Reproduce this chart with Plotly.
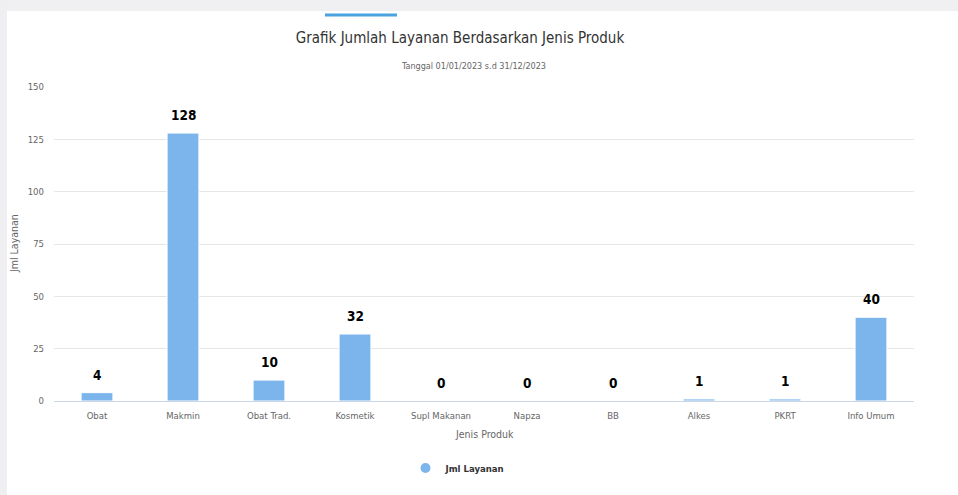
import plotly.graph_objects as go

categories = ["Obat", "Makmin", "Obat Trad.", "Kosmetik", "Supl Makanan", "Napza", "BB", "Alkes", "PKRT", "Info Umum"]
values = [4, 128, 10, 32, 0, 0, 0, 1, 1, 40]
y_ticks = [0, 25, 50, 75, 100, 125, 150]

W, H = 958, 495
L, R, T, B = 54, 44, 87, 94
pw, ph = W - L - R, H - T - B
FONT = "Liberation Sans Narrow, DejaVu Sans Condensed, DejaVu Sans, sans-serif"

def px_x(p):
    return (p - L) / pw

def px_y(p):
    return 1 - (p - T) / ph

fig = go.Figure()
fig.add_trace(go.Bar(
    x=categories, y=values, name="Jml Layanan",
    marker=dict(color="#7cb5ec", line=dict(color="#ffffff", width=1)),
    showlegend=False, cliponaxis=False,
))
# legend proxy (circle marker)
fig.add_trace(go.Scatter(
    x=[None], y=[None], mode="markers", name="<b>Jml Layanan</b>",
    marker=dict(color="#7cb5ec", size=10, symbol="circle"),
))

shapes = [
    dict(type="rect", xref="paper", yref="paper", x0=px_x(0), x1=px_x(W), y0=px_y(11), y1=px_y(0),
         fillcolor="#f0f0f2", line=dict(width=0), layer="below"),
    dict(type="rect", xref="paper", yref="paper", x0=px_x(0), x1=px_x(7), y0=px_y(H), y1=px_y(0),
         fillcolor="#efeff1", line=dict(width=0), layer="below"),
    dict(type="rect", xref="paper", yref="paper", x0=px_x(325), x1=px_x(397), y0=px_y(16.5), y1=px_y(13.5),
         fillcolor="#4aa3df", line=dict(width=0)),
]

annotations = [
    dict(text="Tanggal 01/01/2023 s.d 31/12/2023", xref="paper", yref="paper",
         x=px_x(473), y=px_y(66), xanchor="center", yanchor="middle", showarrow=False,
         font=dict(family=FONT, size=9, color="#666666")),
    dict(text="Jenis Produk", xref="paper", yref="paper",
         x=px_x(484), y=px_y(434), xanchor="center", yanchor="middle", showarrow=False,
         font=dict(family=FONT, size=10.5, color="#666666")),
    dict(text="Jml Layanan", xref="paper", yref="paper", textangle=-90,
         x=px_x(14), y=px_y(244), xanchor="center", yanchor="middle", showarrow=False,
         font=dict(family=FONT, size=10.5, color="#666666")),
]
for c, v in zip(categories, values):
    annotations.append(dict(text=f"<b>{v}</b>", x=c, y=v, xref="x", yref="y",
                            yshift=18, xanchor="center", yanchor="middle", showarrow=False,
                            font=dict(family=FONT, size=13.5, color="#000000")))

fig.update_layout(
    width=W, height=H,
    margin=dict(l=L, r=R, t=T, b=B, autoexpand=False),
    paper_bgcolor="#ffffff", plot_bgcolor="#ffffff",
    font=dict(family=FONT, color="#666666", size=10),
    bargap=0.63,
    shapes=shapes,
    annotations=annotations,
    title=dict(text="Grafik Jumlah Layanan Berdasarkan Jenis Produk", xref="container", x=460 / W,
               xanchor="center", yref="container", y=1 - 38 / H, yanchor="middle",
               font=dict(family=FONT, size=15, color="#333333")),
    xaxis=dict(automargin=False, showgrid=False, showline=True, linecolor="#ccd6eb", linewidth=1, ticks="",
               tickfont=dict(family=FONT, size=9.5, color="#666666"), ticklabelstandoff=6),
    yaxis=dict(automargin=False, range=[0, 150], tickvals=y_ticks, showgrid=True, gridcolor="#e6e6e6",
               zeroline=False, tickfont=dict(family=FONT, size=9.5, color="#666666"), ticklabelstandoff=9),
    legend=dict(orientation="h", x=px_x(458), xanchor="center", y=px_y(468), yanchor="middle",
                font=dict(family=FONT, size=9.5, color="#333333"), itemwidth=30),
)

fig.write_html("out.html")
